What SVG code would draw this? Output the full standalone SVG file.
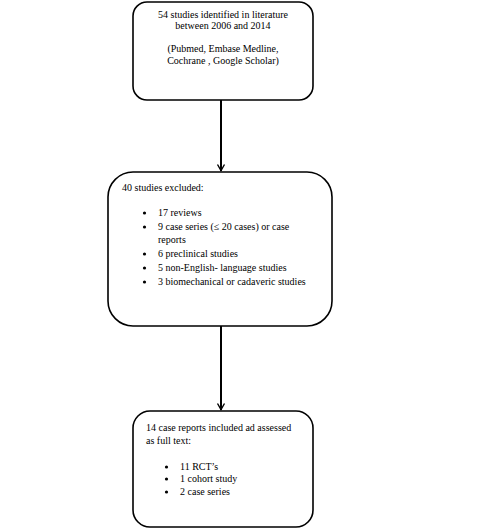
<svg xmlns="http://www.w3.org/2000/svg" width="481" height="530" viewBox="0 0 481 530">
<style>
.box{fill:#fff;stroke:#000;stroke-width:1.6}
.t{font-family:"Liberation Serif","Times New Roman",serif;font-size:10px;fill:#000}
.c{text-anchor:middle}
.ln{stroke:#000;stroke-width:2;fill:none}
.hd{stroke:#000;stroke-width:1.4;fill:none}
</style>
<rect width="481" height="530" fill="#fff"/>
<g id="connectors">
<line class="ln" x1="221" y1="100" x2="221" y2="171"/>
<path class="hd" d="M217.5,164.5 L221,170.5 L224.5,164.5"/>
<line class="ln" x1="221" y1="326" x2="221" y2="410"/>
<path class="hd" d="M217.5,403.5 L221,409.5 L224.5,403.5"/>
</g>
<g id="n1">
<rect class="box" x="133" y="2" width="180" height="98" rx="14" ry="14"/>
<text class="t c" x="223" y="18">54 studies identified in literature</text>
<text class="t c" x="223" y="29">between 2006 and 2014</text>
<text class="t c" x="223" y="52">(Pubmed,  Embase Medline,</text>
<text class="t c" x="223" y="64">Cochrane , Google Scholar)</text>
</g>
<g id="n2">
<rect class="box" x="108" y="172" width="224" height="154" rx="25" ry="25"/>
<text class="t" x="122" y="191">40 studies excluded:</text>
<g fill="#000">
<circle cx="144.5" cy="213" r="1.6"/>
<circle cx="144.5" cy="227" r="1.6"/>
<circle cx="144.5" cy="254" r="1.6"/>
<circle cx="144.5" cy="268" r="1.6"/>
<circle cx="144.5" cy="282" r="1.6"/>
</g>
<text class="t" x="158" y="216">17 reviews</text>
<text class="t" x="158" y="230">9 case series (≤ 20 cases) or case</text>
<text class="t" x="158" y="243">reports</text>
<text class="t" x="158" y="257">6 preclinical studies</text>
<text class="t" x="158" y="271">5 non-English- language studies</text>
<text class="t" x="158" y="285">3 biomechanical or cadaveric studies</text>
</g>
<g id="n3">
<rect class="box" x="133" y="411" width="180" height="116" rx="17" ry="17"/>
<text class="t" x="146" y="431">14 case reports included ad assessed</text>
<text class="t" x="146" y="444">as full text:</text>
<g fill="#000">
<circle cx="166.5" cy="467" r="1.6"/>
<circle cx="166.5" cy="479" r="1.6"/>
<circle cx="166.5" cy="492" r="1.6"/>
</g>
<text class="t" x="180" y="470">11 RCT’s</text>
<text class="t" x="180" y="482">1 cohort study</text>
<text class="t" x="180" y="495">2 case series</text>
</g>
</svg>
